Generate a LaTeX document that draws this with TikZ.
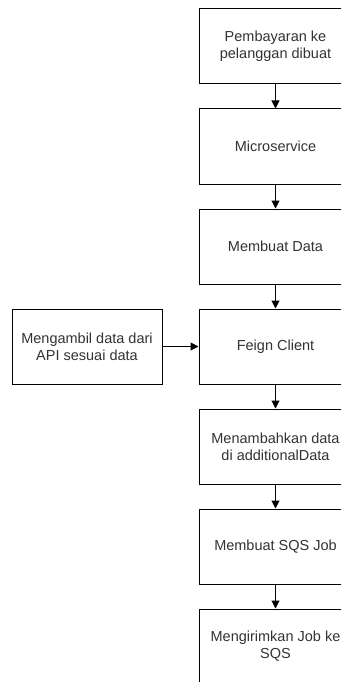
\documentclass[tikz,border=0pt]{standalone}
\usepackage{fontspec}
\setmainfont{Liberation Sans}
\usetikzlibrary{arrows.meta}
\begin{document}
\begin{tikzpicture}[x=1pt,y=-1pt,
  stepbox/.style={draw=black, line width=1pt, fill=white, minimum width=153pt, minimum height=75pt,
    align=center, inner sep=2pt, font=\fontsize{14.5}{17}\selectfont, text=black!80},
  sidebox/.style={stepbox, minimum width=150pt},
  flow/.style={-{Triangle[length=8pt,width=8pt]}, line width=1pt, black}]
\useasboundingbox (0,0) rectangle (341,682);
\clip (0,0) rectangle (341,682);
% main column of steps
\node[stepbox] (s1) at (275.5,46.5) {Pembayaran ke\\pelanggan dibuat};
\node[stepbox] (s2) at (275.5,146.5) {Microservice};
\node[stepbox] (s3) at (275.5,246.5) {Membuat Data};
\node[stepbox] (s4) at (275.5,346.5) {Feign Client};
\node[stepbox] (s5) at (275.5,446.5) {Menambahkan data\\di additionalData};
\node[stepbox] (s6) at (275.5,546.5) {Membuat SQS Job};
\node[stepbox] (s7) at (275.5,646.5) {Mengirimkan Job ke\\SQS};
% side input
\node[sidebox] (api) at (87,346.5) {Mengambil data dari\\API sesuai data};
% connectors
\draw[flow] (s1) -- (s2);
\draw[flow] (s2) -- (s3);
\draw[flow] (s3) -- (s4);
\draw[flow] (s4) -- (s5);
\draw[flow] (s5) -- (s6);
\draw[flow] (s6) -- (s7);
\draw[flow] (api) -- (s4);
\end{tikzpicture}
\end{document}
